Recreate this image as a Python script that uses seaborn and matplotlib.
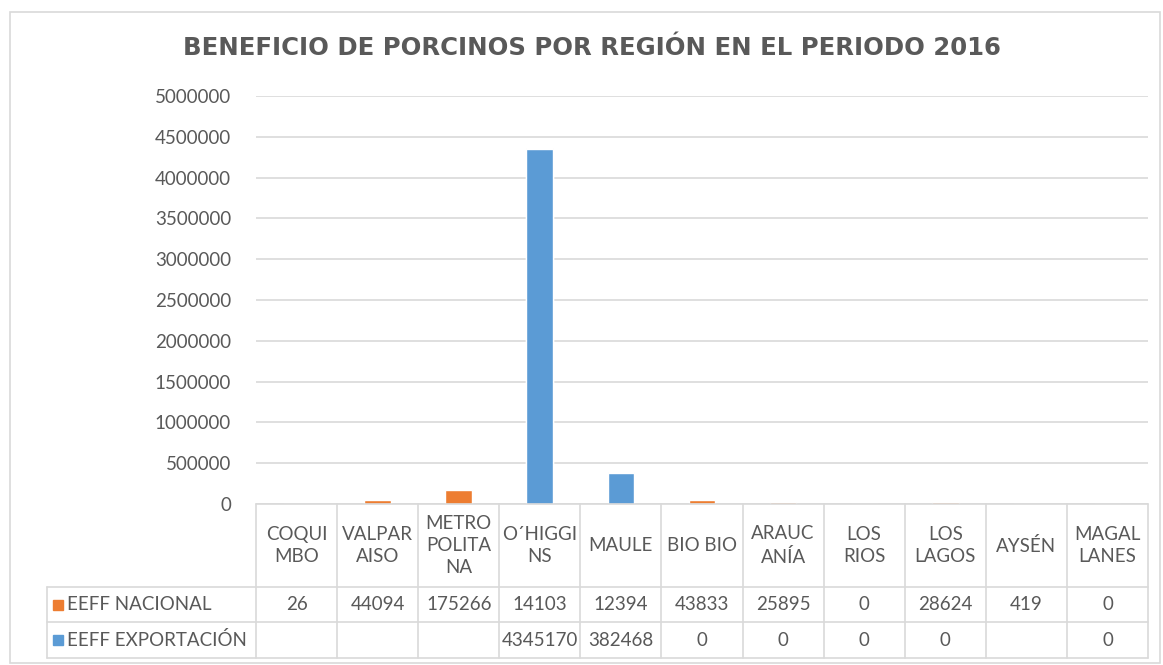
import numpy as np
import pandas as pd
import seaborn as sns
import matplotlib.pyplot as plt
from matplotlib.patches import Rectangle

# data
regiones = ['COQUIMBO', 'VALPARAISO', 'METROPOLITANA', 'O´HIGGINS', 'MAULE', 'BIO BIO',
            'ARAUCANÍA', 'LOS RIOS', 'LOS LAGOS', 'AYSÉN', 'MAGALLANES']
etiquetas = ['COQUI\nMBO', 'VALPAR\nAISO', 'METRO\nPOLITA\nNA', 'O´HIGGI\nNS', 'MAULE', 'BIO BIO',
             'ARAUC\nANÍA', 'LOS\nRIOS', 'LOS\nLAGOS', 'AYSÉN', 'MAGAL\nLANES']
nacional = [26, 44094, 175266, 14103, 12394, 43833, 25895, 0, 28624, 419, 0]
exportacion = [np.nan, np.nan, np.nan, 4345170, 382468, 0, 0, 0, 0, np.nan, 0]

df = pd.DataFrame({'region': regiones, 'nacional': nacional, 'exportacion': exportacion})
df['total'] = df['nacional'] + df['exportacion'].fillna(0)

azul = '#5B9BD5'
naranja = '#ED7D31'
gris_txt = '#595959'
gris_lin = '#D9D9D9'

sns.set_style('white')
plt.rcParams['font.family'] = ['Lato', 'DejaVu Sans']

W, H = 1163, 665
fig = plt.figure(figsize=(W / 100, H / 100), dpi=100)

# plot area (pixels)
x0, x1 = 256, 1148
y0, ytop = 504, 96
ax = fig.add_axes([x0 / W, (H - y0) / H, (x1 - x0) / W, (y0 - ytop) / H])

sns.barplot(data=df, x='region', y='total', color=naranja, width=0.33,
            errorbar=None, saturation=1, ax=ax)
sns.barplot(data=df, x='region', y='exportacion', color=azul, width=0.33,
            errorbar=None, saturation=1, ax=ax)

ax.set_xlim(-0.5, len(regiones) - 0.5)
ax.set_ylim(0, 5000000)
ax.set_yticks(np.arange(0, 5000001, 500000))
ax.set_yticklabels([str(v) for v in range(0, 5000001, 500000)], fontsize=13.5, color=gris_txt)
ax.tick_params(axis='y', length=0, pad=18)
ax.set_xticks([])
ax.set_xlabel('')
ax.set_ylabel('')
ax.grid(axis='y', color=gris_lin, linewidth=1.2)
ax.set_axisbelow(True)
for s in ax.spines.values():
    s.set_visible(False)

fig.text(0.5 * (180 + 1003) / W, 1 - 48 / H, 'BENEFICIO DE PORCINOS POR REGIÓN EN EL PERIODO 2016',
         ha='center', va='center', fontsize=17.6, fontweight='bold', color=gris_txt,
         family=['DejaVu Sans'])

# data table overlay in pixel coords
tb = fig.add_axes([0, 0, 1, 1], zorder=3)
tb.set_xlim(0, W)
tb.set_ylim(H, 0)
tb.axis('off')
tb.patch.set_alpha(0)

n = len(regiones)
cw = (x1 - x0) / n
r1, r2, r3 = 587, 622, 658
lx = 47
lw = 1.2
tb.plot([x0, x1], [y0, y0], color=gris_lin, lw=lw)
tb.plot([lx, x1], [r1, r1], color=gris_lin, lw=lw)
tb.plot([lx, x1], [r2, r2], color=gris_lin, lw=lw)
tb.plot([lx, x1], [r3, r3], color=gris_lin, lw=lw)
tb.plot([lx, lx], [r1, r3], color=gris_lin, lw=lw)
for k in range(n + 1):
    tb.plot([x0 + k * cw] * 2, [y0, r3], color=gris_lin, lw=lw)

fs = 13.5
for k in range(n):
    cx = x0 + (k + 0.5) * cw
    tb.text(cx, (y0 + r1) / 2, etiquetas[k], ha='center', va='center', fontsize=fs,
            color=gris_txt, linespacing=1.35)
    tb.text(cx, (r1 + r2) / 2, str(nacional[k]), ha='center', va='center', fontsize=fs, color=gris_txt)
    if not np.isnan(exportacion[k]):
        tb.text(cx, (r2 + r3) / 2, str(int(exportacion[k])), ha='center', va='center',
                fontsize=fs, color=gris_txt)

for (ya, yb), nombre, col in [((r1, r2), 'EEFF NACIONAL', naranja), ((r2, r3), 'EEFF EXPORTACIÓN', azul)]:
    ym = (ya + yb) / 2
    tb.add_patch(Rectangle((53, ym - 5), 10, 10, color=col))
    tb.text(67, ym, nombre, ha='left', va='center', fontsize=fs, color=gris_txt)

# chart border
tb.add_patch(Rectangle((10, 12), W - 13, H - 14, fill=False, edgecolor=gris_lin, lw=1.2))

fig.savefig('out.png', dpi=100)
